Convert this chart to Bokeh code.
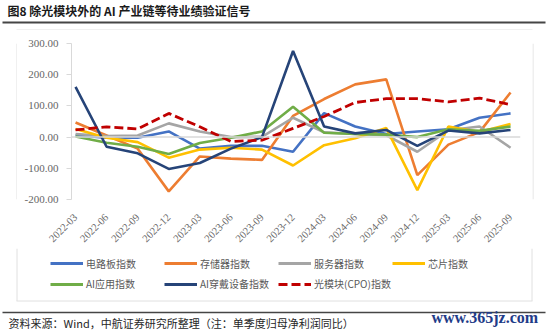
from bokeh.plotting import figure
from bokeh.layouts import column, row
from bokeh.models import (FixedTicker, NumeralTickFormatter, Span, Legend, LegendItem, Range1d)
from bokeh.core.properties import value
from bokeh.embed import file_html
from bokeh.resources import INLINE
import math

quarters = ["2022-03", "2022-06", "2022-09", "2022-12", "2023-03", "2023-06", "2023-09", "2023-12",
            "2024-03", "2024-06", "2024-09", "2024-12", "2025-03", "2025-06", "2025-09"]

pcb = [5, -2, -2, 18, -37, -28, -28, -47, 77, 34, 10, 18, 25, 62, 76]
memory = [47, 5, -37, -174, -62, -69, -73, 68, 122, 169, 185, -122, -24, 16, 143]
server = [10, 3, 5, 44, 18, 0, 1, 62, 15, 10, 6, -47, 22, 34, -34]
chip = [26, -2, -16, -66, -40, -34, -40, -91, -26, -4, 29, -170, 34, 16, 42]
ai_app = [2, -18, -31, -54, -19, -2, 18, 97, 14, 10, 8, 0, 25, 20, 34]
ai_wear = [161, -31, -52, -102, -83, -37, 0, 276, 34, 12, 23, -28, 21, 12, 23]
cpo = [23, 33, 26, 76, 33, -14, -10, 28, 66, 111, 123, 123, 113, 125, 104]

series_names = ["电路板指数", "存储器指数", "服务器指数", "芯片指数",
                "AI应用指数", "AI穿戴设备指数", "光模块(CPO)指数"]
series_values = [pcb, memory, server, chip, ai_app, ai_wear, cpo]
series_colors = ["#4472C4", "#ED7D31", "#A5A5A5", "#FFC000", "#70AD47", "#264478", "#C00000"]
series_dashes = ["solid", "solid", "solid", "solid", "solid", "solid", "9 4"]
y_ticks = [-200, -100, 0, 100, 200, 300]

title_text = "图8  除光模块外的 AI 产业链等待业绩验证信号"
source_text = "资料来源：Wind，中航证券研究所整理（注：单季度归母净利润同比）"
watermark_text = "www.365jz.com"

legend_row1 = ["电路板指数", "存储器指数", "服务器指数", "芯片指数"]
legend_row2 = ["AI应用指数", "AI穿戴设备指数", "光模块(CPO)指数"]

BOX = "#e0e0e0"
RULE = "#454545"
CJK = "Noto Sans CJK SC"

TOP_H = 30
MAIN_H = 218
BOT_Y0 = TOP_H + MAIN_H
BOT_H = 332 - BOT_Y0


def canvas_fig(w, h, y_top, y_bottom):
    f = figure(width=w, height=h, output_backend="svg", toolbar_location=None,
               x_range=Range1d(0, w), y_range=Range1d(y_bottom, y_top),
               x_axis_type=None, y_axis_type=None, min_border=0)
    f.outline_line_color = None
    f.grid.visible = False
    f.background_fill_color = "white"
    f.border_fill_color = "white"
    return f


# ---------------- header (page y 0..30) ----------------
top = canvas_fig(550, TOP_H, 0, TOP_H)
top.text(x=[7], y=[9.5], text=[title_text], text_font=value(CJK), text_font_size="12px",
         text_font_style="bold", text_color="#1a1a1a", text_baseline="middle")
top.segment(x0=[2], y0=[22], x1=[545], y1=[22], line_color=RULE, line_width=1.8)
top.segment(x0=[16], y0=[29.5], x1=[532], y1=[29.5], line_color=BOX, line_width=1)

# ---------------- main chart ----------------
xs = list(range(len(quarters)))
p = figure(width=515, height=MAIN_H, output_backend="svg", toolbar_location=None,
           x_range=Range1d(-0.13, 14.32), y_range=Range1d(-200, 300),
           min_border_left=54, min_border_right=12, min_border_top=13,
           min_border_bottom=MAIN_H - 13 - 159)
p.background_fill_color = "white"
p.border_fill_color = "white"
p.outline_line_color = None
p.xgrid.visible = False
p.ygrid.visible = False
p.add_layout(Span(location=0, dimension="width", line_color="#d9d9d9", line_width=1.5))

for name, vals, color, dash in zip(series_names, series_values, series_colors, series_dashes):
    p.line(xs, vals, line_color=color, line_width=2.6 if dash == "solid" else 2.8,
           line_dash=dash)

p.yaxis.ticker = FixedTicker(ticks=y_ticks)
p.yaxis.formatter = NumeralTickFormatter(format="0.00")
p.yaxis.axis_line_color = "#d9d9d9"
p.yaxis.major_tick_line_color = "#d9d9d9"
p.yaxis.major_tick_out = 5
p.yaxis.major_tick_in = 0
p.yaxis.minor_tick_line_color = None
p.yaxis.major_label_text_font = "Liberation Serif"
p.yaxis.major_label_text_font_size = "11px"
p.yaxis.major_label_text_color = "#666666"
p.yaxis.major_label_standoff = 8

p.xaxis.ticker = FixedTicker(ticks=xs)
p.xaxis.major_label_overrides = {i: q for i, q in enumerate(quarters)}
p.xaxis.major_label_orientation = math.pi / 4
p.xaxis.axis_line_color = None
p.xaxis.major_tick_line_color = None
p.xaxis.minor_tick_line_color = None
p.xaxis.major_label_text_font = "Liberation Serif"
p.xaxis.major_label_text_font_size = "10.5px"
p.xaxis.major_label_text_color = "#666666"
p.xaxis.major_label_standoff = 10

left_strip = canvas_fig(17, MAIN_H, 0, MAIN_H)
left_strip.segment(x0=[16.5], y0=[0], x1=[16.5], y1=[MAIN_H], line_color=BOX, line_width=1)
right_strip = canvas_fig(18, MAIN_H, 0, MAIN_H)
right_strip.segment(x0=[0.5], y0=[0], x1=[0.5], y1=[MAIN_H], line_color=BOX, line_width=1)

# ---------------- bottom: legend + source ----------------
bot = canvas_fig(550, BOT_H, BOT_Y0, 332)
bot.segment(x0=[16.5, 531.5, 16], y0=[BOT_Y0, BOT_Y0, 300.5], x1=[16.5, 531.5, 532],
            y1=[300.5, 300.5, 300.5], line_color=BOX, line_width=1)
bot.segment(x0=[2], y0=[312], x1=[545], y1=[312], line_color=RULE, line_width=1.5)
bot.text(x=[8], y=[322.5], text=[source_text], text_font=value(CJK), text_font_size="11px",
         text_color="#262626", text_baseline="middle")
bot.text(x=[431], y=[317], text=[watermark_text], text_font=value("Liberation Serif"),
         text_font_size="16px", text_font_style="bold", text_color="#1F3C88",
         text_baseline="middle")

nan = float("nan")
legend_renderers = {}
for name, color, dash in zip(series_names, series_colors, series_dashes):
    legend_renderers[name] = bot.line(x=[nan, nan], y=[nan, nan], line_color=color,
                                      line_width=2.8 if dash == "solid" else 3,
                                      line_dash=dash)


def make_legend(names, loc):
    lg = Legend(items=[LegendItem(label=n, renderers=[legend_renderers[n]]) for n in names],
                orientation="horizontal", location=loc,
                label_text_font=CJK, label_text_font_size="10px",
                label_text_color="#595959", glyph_width=33, glyph_height=10,
                label_standoff=3, label_width=69, spacing=9, padding=0, margin=0,
                label_height=12, border_line_color=None, background_fill_alpha=0)
    bot.add_layout(lg, "center")


make_legend(legend_row1, (50, 61.5))
make_legend(legend_row2, (50, 41))

layout = column(top, row(left_strip, p, right_strip), bot)
open("out.html", "w").write(file_html(layout, INLINE))
